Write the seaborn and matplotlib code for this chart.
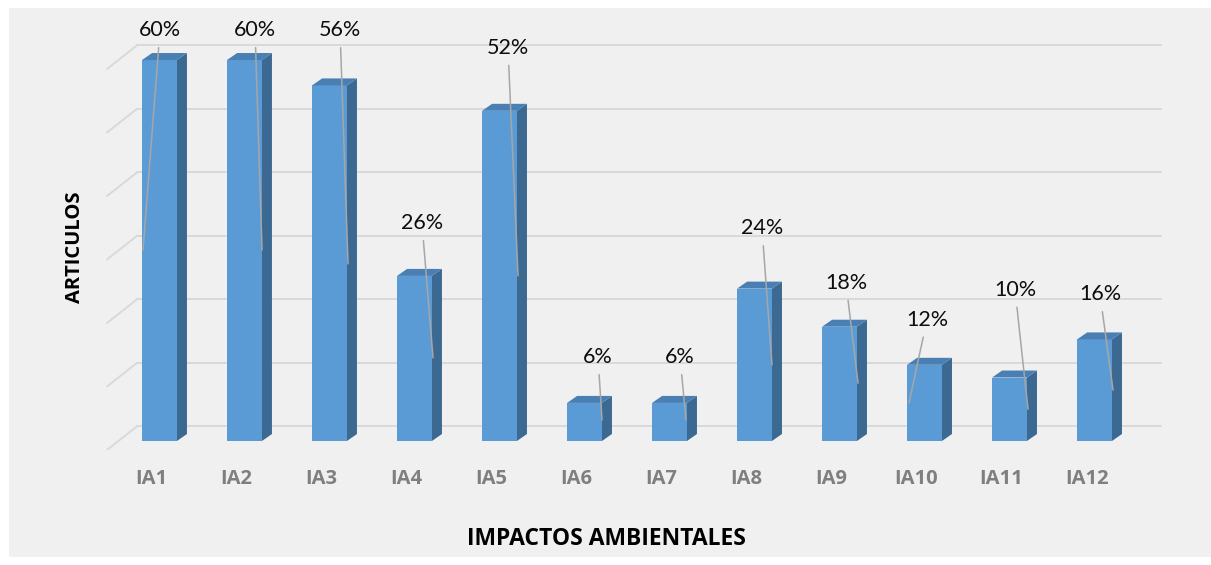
import numpy as np
import pandas as pd
import seaborn as sns
import matplotlib.pyplot as plt
from matplotlib.patches import Polygon, Rectangle

# data
CATEGORIES = ['IA1', 'IA2', 'IA3', 'IA4', 'IA5', 'IA6', 'IA7', 'IA8', 'IA9', 'IA10', 'IA11', 'IA12']
VALUES = [60, 60, 56, 26, 52, 6, 6, 24, 18, 12, 10, 16]
GRID_LEVELS = [0, 10, 20, 30, 40, 50, 60]

# data label placement (x offset from bar, y in %), and where the leader line ends
LABEL_DX = [0.006, 0.124, 0.124, 0.088, 0.100, 0.159, 0.124, 0.088, 0.076, 0.029, 0.065, 0.065]
LABEL_Y = [64.7, 64.7, 64.7, 34.3, 61.9, 13.2, 13.2, 33.5, 24.9, 19.1, 23.8, 23.1]
TIP_DX = [-0.194, 0.206, 0.218, 0.218, 0.218, 0.206, 0.194, 0.206, 0.218, -0.182, 0.218, 0.218]
TIP_Y = [30.1, 30.1, 27.9, 13.1, 26.0, 3.3, 3.3, 12.0, 9.1, 6.0, 5.0, 8.0]

FRONT = '#5b9bd5'
SIDE = '#3c6992'
TOP = '#4a7fb4'
GRID = '#d9d9d9'
BOLD_FONT = ['Open Sans', 'DejaVu Sans']

sns.set_style('white')
plt.rcParams['font.family'] = ['Lato', 'DejaVu Sans']


def draw():
    fig = plt.figure(figsize=(12.11, 5.65), dpi=100)
    fig.patch.set_facecolor('white')
    # grey chart area with a thin white margin
    fig.patches.append(Rectangle((9 / 1211, 1 - 557 / 565), 1 - 9 / 1211, (557 - 8) / 565,
                                 transform=fig.transFigure, facecolor='#f0f0f0',
                                 edgecolor='none', zorder=-5))

    ax = fig.add_axes([100 / 1211, 1 - 450 / 565, 1070 / 1211, 430 / 565])
    ax.set_facecolor('none')

    df = pd.DataFrame({'impacto': CATEGORIES, 'pct': VALUES})
    sns.barplot(data=df, x='impacto', y='pct', width=0.41, color=FRONT,
                saturation=1, linewidth=0, ax=ax, zorder=3)

    # back wall + floor grid lines
    back_dy = 2.3
    for v in GRID_LEVELS:
        ax.plot([-0.265, 11.78], [v + back_dy, v + back_dy], color=GRID, lw=1.4, zorder=1)
        ax.plot([-0.618, -0.265], [v - 1.42, v + back_dy], color=GRID, lw=1.4, zorder=1)

    # fake depth on the bars
    dx, dy = 0.118, 1.1
    for bar in list(ax.patches):
        x0 = bar.get_x()
        x1 = x0 + bar.get_width()
        h = bar.get_height()
        ax.add_patch(Polygon([(x1, 0), (x1 + dx, dy), (x1 + dx, h + dy), (x1, h)],
                             closed=True, facecolor=SIDE, edgecolor='none', zorder=2))
        ax.add_patch(Polygon([(x0, h), (x0 + dx, h + dy), (x1 + dx, h + dy), (x1, h)],
                             closed=True, facecolor=TOP, edgecolor='none', zorder=3))

    # percentage labels with leader lines
    for i, v in enumerate(VALUES):
        ax.annotate(f'{v}%', xy=(i + TIP_DX[i], TIP_Y[i]),
                    xytext=(i + LABEL_DX[i], LABEL_Y[i]),
                    ha='center', va='center', fontsize=15.5, color='#0d0d0d',
                    arrowprops=dict(arrowstyle='-', color='#a6a6a6', lw=1.1,
                                    shrinkA=3, shrinkB=0),
                    zorder=6)

    ax.set_xlim(-0.7, 11.888)
    ax.set_ylim(-1.417, 66.3)
    ax.set_yticks([])
    ax.set_xticks(np.arange(len(CATEGORIES)) - 0.094, CATEGORIES)
    ax.tick_params(axis='x', length=0, pad=14, labelsize=14.5, labelcolor='#7f7f7f')
    plt.setp(ax.get_xticklabels(), fontweight='bold', family=BOLD_FONT)
    sns.despine(ax=ax, left=True, bottom=True)

    ax.set_xlabel('IMPACTOS AMBIENTALES', fontsize=16.5, fontweight='bold',
                  color='black', family=BOLD_FONT)
    ax.set_ylabel('ARTICULOS', fontsize=14.5, fontweight='bold',
                  color='black', family=BOLD_FONT)
    ax.xaxis.set_label_coords((606 - 100) / 1070, (450 - 539) / 430)
    ax.yaxis.set_label_coords((75 - 100) / 1070, (450 - 247) / 430)
    ax.xaxis.label.set_verticalalignment('center')
    ax.yaxis.label.set_verticalalignment('center')

    fig.savefig('out.png', dpi=100)


if __name__ == "__main__":
    draw()
